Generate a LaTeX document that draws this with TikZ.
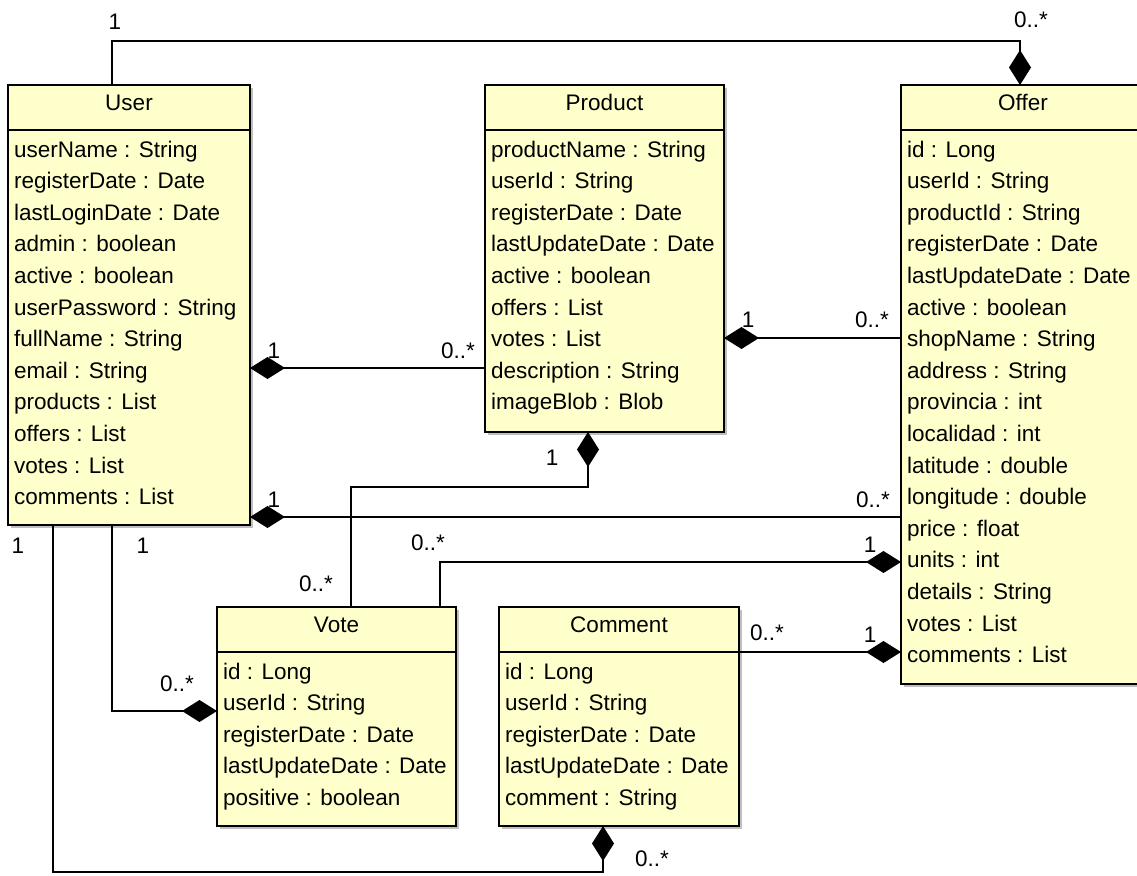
\documentclass[tikz,border=0pt]{standalone}
\usepackage{fontspec}
\setmainfont{Liberation Sans}
\usetikzlibrary{arrows.meta,shadows}
\definecolor{clsfill}{RGB}{255,255,204}
\tikzset{
  cls/.style={draw, line width=1.5pt, fill=clsfill, inner sep=0pt, outer sep=0pt, anchor=north west,
    drop shadow={shadow xshift=3pt, shadow yshift=-3pt, opacity=0.25, fill=black}},
  txt/.style={inner sep=0pt, font=\fontsize{22.5}{27}\selectfont},
  attr/.style={txt, anchor=base west},
  ttl/.style={txt, anchor=base},
  mult/.style={txt, anchor=base},
  link/.style={line width=1.5pt},
  compo/.style={link, -{Diamond[length=35pt, width=22pt, fill=black]}},
}
\newcommand\umlcls[7]{%
  \node[cls, minimum width=#4pt, minimum height=#5pt] (#1) at (#2,#3) {};
  \draw[line width=1.5pt] ([yshift=-45pt]#1.north west) -- ([yshift=-45pt]#1.north east);
  \node[ttl] (#1-t) at ([yshift=-25.5pt]#1.north) {#6};
  \foreach \attrtext [count=\i from 0] in {#7} {
    \node[attr] (#1-\i) at ([xshift=6pt, yshift={-72pt-\i*31.6pt}]#1.north west) {\attrtext};
  }
}
\begin{document}
\begin{tikzpicture}[x=1pt,y=-1pt]
\useasboundingbox (0,0) rectangle (1137,875);
\clip (0,0) rectangle (1137,875);
\fill[white] (0,0) rectangle (1137,875);

\umlcls{user}{8}{85}{242}{440}{User}{userName : String,registerDate : Date,lastLoginDate : Date,admin : boolean,active : boolean,userPassword : String,fullName : String,email : String,products : List,offers : List,votes : List,comments : List}
\umlcls{product}{485}{85}{239}{347}{Product}{productName : String,userId : String,registerDate : Date,lastUpdateDate : Date,active : boolean,offers : List,votes : List,description : String,imageBlob : Blob}
\umlcls{offer}{901}{85}{244}{599}{Offer}{id : Long,userId : String,productId : String,registerDate : Date,lastUpdateDate : Date,active : boolean,shopName : String,address : String,provincia : int,localidad : int,latitude : double,longitude : double,price : float,units : int,details : String,votes : List,comments : List}
\umlcls{vote}{217}{607}{239}{219}{Vote}{id : Long,userId : String,registerDate : Date,lastUpdateDate : Date,positive : boolean}
\umlcls{comment}{499}{607}{240}{219}{Comment}{id : Long,userId : String,registerDate : Date,lastUpdateDate : Date,comment : String}

% connectors
\draw[compo] (user.north -| 112,0) |- (1020,41) -- (offer.north -| 1020,0);
\draw[compo] (product.west |- 0,368) -- (user.east |- 0,368);
\draw[compo] (offer.west |- 0,338) -- (product.east |- 0,338);
\draw[compo] (offer.west |- 0,517) -- (user.east |- 0,517);
\draw[compo] (vote.north -| 351,0) |- (588,487) -- (product.south -| 588,0);
\draw[compo] (vote.north -| 440,0) |- (offer.west |- 0,562);
\draw[compo] (comment.east |- 0,652) -- (offer.west |- 0,652);
\draw[compo] (user.south -| 112,0) |- (vote.west |- 0,711);
\draw[compo] (user.south -| 53,0) |- (603,872) -- (comment.south -| 603,0);

% multiplicities
\node[mult] (m1) at (115,30) {1};
\node[mult] (m2) at (1031,28) {0..*};
\node[mult] (m3) at (274,358) {1};
\node[mult] (m4) at (458,358) {0..*};
\node[mult] (m5) at (748,327) {1};
\node[mult] (m6) at (872,327) {0..*};
\node[mult] (m7) at (274,507) {1};
\node[mult] (m8) at (873,507) {0..*};
\node[mult] (m9) at (552,465) {1};
\node[mult] (m10) at (316,591) {0..*};
\node[mult] (m11) at (428,550) {0..*};
\node[mult] (m12) at (870,552) {1};
\node[mult] (m13) at (767,640) {0..*};
\node[mult] (m14) at (870,642) {1};
\node[mult] (m15) at (143,553) {1};
\node[mult] (m16) at (177,691) {0..*};
\node[mult] (m17) at (18,553) {1};
\node[mult] (m18) at (652,866) {0..*};
\end{tikzpicture}
\end{document}
